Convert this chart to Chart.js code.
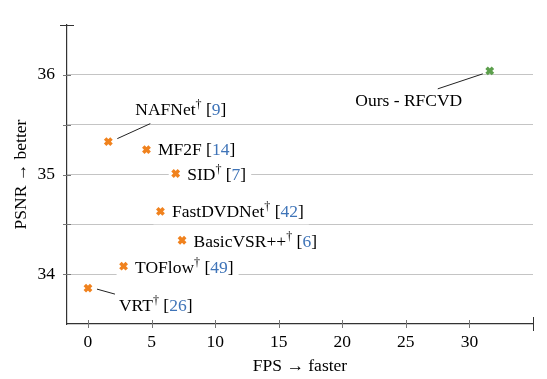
<!DOCTYPE html>
<html lang="en">
<head>
<meta charset="UTF-8">
<title>PSNR vs FPS</title>
<script src="https://cdn.jsdelivr.net/npm/chart.js"></script>
<style>
  html, body { margin: 0; padding: 0; background: #fff; }
</style>
</head>
<body>
<canvas id="chart" width="547" height="379"></canvas>
<script>
// data
const methods = ['NAFNet', 'MF2F', 'SID', 'FastDVDNet', 'BasicVSR++', 'TOFlow', 'VRT'];
const methodFps = [1.6, 4.6, 6.9, 5.7, 7.4, 2.8, 0.0];
const methodPsnr = [35.33, 35.25, 35.01, 34.63, 34.34, 34.08, 33.86];
const methodDagger = [true, false, true, true, true, true, true];
const methodRefs = ['9', '14', '7', '42', '6', '49', '26'];

const ours = ['Ours - RFCVD'];
const oursFps = [31.6];
const oursPsnr = [36.04];

const xTicks = [0, 5, 10, 15, 20, 25, 30, 35];
const xTickLabels = ['0', '5', '10', '15', '20', '25', '30', ''];
const yTicks = [33.5, 34, 34.5, 35, 35.5, 36, 36.5];
const yTickLabels = ['', '34', '', '35', '', '36', ''];

const ORANGE = '#f0821e';
const GREEN = '#5c9f4c';
const BLUE = '#3f74b8';
const FONT = '"Liberation Serif", "DejaVu Serif", serif';
const FS = 17.5;

// where each label sits relative to its marker
const labelPlace = {
  'NAFNet':       { dx: 27,  dy: -27, align: 'left', leader: [9, -3, 42, -18] },
  'MF2F':         { dx: 11.5, dy: 5,  align: 'left', boxFromPoint: true },
  'SID':          { dx: 11.5, dy: 6,  align: 'left', boxFromPoint: true },
  'FastDVDNet':   { dx: 11.5, dy: 6,  align: 'left', boxFromPoint: true },
  'BasicVSR++':   { dx: 11.5, dy: 6.5, align: 'left', boxFromPoint: true },
  'TOFlow':       { dx: 11.5, dy: 7,  align: 'left', boxFromPoint: true },
  'VRT':          { dx: 31,  dy: 23,  align: 'left', leader: [9, 1, 27, 6] },
  'Ours - RFCVD': { dx: -81, dy: 35,  align: 'center', leader: [-52, 18, -7, 3] }
};

const methodPoints = methods.map((m, i) => ({
  x: methodFps[i], y: methodPsnr[i], name: m, dagger: methodDagger[i], ref: methodRefs[i]
}));
const oursPoints = ours.map((m, i) => ({ x: oursFps[i], y: oursPsnr[i], name: m }));

function runsFor(p) {
  const runs = [{ t: p.name, c: '#000' }];
  if (p.dagger) runs.push({ t: '\u2020', c: '#000', sup: true });
  if (p.ref) {
    runs.push({ t: ' [', c: '#000' }, { t: p.ref, c: BLUE }, { t: ']', c: '#000' });
  }
  return runs;
}

const pointLabels = {
  id: 'pointLabels',
  beforeDatasetsDraw(chart) {
    const ctx = chart.ctx;
    ctx.save();
    chart.data.datasets.forEach((ds, di) => {
      const meta = chart.getDatasetMeta(di);
      meta.data.forEach((el, i) => {
        const p = ds.data[i];
        const place = labelPlace[p.name];
        if (!place) return;
        const runs = runsFor(p);
        let w = 0;
        runs.forEach(r => {
          ctx.font = (r.sup ? 12 : FS) + 'px ' + FONT;
          r.w = ctx.measureText(r.t).width;
          w += r.w;
        });
        let x0 = el.x + place.dx;
        if (place.align === 'center') x0 -= w / 2;
        const base = el.y + place.dy;
        // white box behind the text
        const bl = place.boxFromPoint ? el.x - 7 : x0 - 4;
        ctx.fillStyle = '#fff';
        ctx.fillRect(bl, base - 16, x0 + w + 5 - bl, 23);
        // leader line
        if (place.leader) {
          const l = place.leader;
          ctx.strokeStyle = '#222';
          ctx.lineWidth = 1;
          ctx.beginPath();
          ctx.moveTo(el.x + l[0], el.y + l[1]);
          ctx.lineTo(el.x + l[2], el.y + l[3]);
          ctx.stroke();
        }
        ctx.textBaseline = 'alphabetic';
        ctx.textAlign = 'left';
        let x = x0;
        runs.forEach(r => {
          ctx.font = (r.sup ? 12 : FS) + 'px ' + FONT;
          ctx.fillStyle = r.c;
          ctx.fillText(r.t, x, r.sup ? base - 7 : base);
          x += r.w;
        });
      });
    });
    ctx.restore();
  }
};

const axisTicks = {
  id: 'axisTicks',
  afterDraw(chart) {
    const { ctx, chartArea, scales } = chart;
    ctx.save();
    ctx.lineWidth = 1;
    scales.y.ticks.forEach(t => {
      if (t.value === scales.y.min) return;
      const py = Math.round(scales.y.getPixelForValue(t.value)) + 0.5;
      const cap = t.value === scales.y.max;
      const len = cap ? 7 : 4;
      ctx.strokeStyle = cap ? '#333' : '#777';
      ctx.beginPath();
      ctx.moveTo(chartArea.left - len, py);
      ctx.lineTo(chartArea.left + len, py);
      ctx.stroke();
    });
    scales.x.ticks.forEach(t => {
      const px = Math.round(scales.x.getPixelForValue(t.value)) + 0.5;
      const cap = t.value === scales.x.max;
      const len = cap ? 7 : 4;
      ctx.strokeStyle = cap ? '#333' : '#777';
      ctx.beginPath();
      ctx.moveTo(px, chartArea.bottom - len);
      ctx.lineTo(px, chartArea.bottom + len);
      ctx.stroke();
    });
    ctx.restore();
  }
};

new Chart(document.getElementById('chart'), {
  type: 'scatter',
  data: {
    datasets: [
      {
        label: 'Others',
        data: methodPoints,
        pointStyle: 'crossRot',
        pointRadius: 4.5,
        pointBorderWidth: 3.5,
        borderColor: ORANGE,
        backgroundColor: ORANGE
      },
      {
        label: 'Ours',
        data: oursPoints,
        pointStyle: 'crossRot',
        pointRadius: 4.5,
        pointBorderWidth: 3.5,
        borderColor: GREEN,
        backgroundColor: GREEN
      }
    ]
  },
  options: {
    responsive: false,
    animation: false,
    devicePixelRatio: 1,
    layout: { padding: { top: 25, right: 14, left: 0, bottom: 0 } },
    plugins: { legend: { display: false }, tooltip: { enabled: false } },
    scales: {
      x: {
        type: 'linear',
        min: -1.65,
        max: 35,
        afterBuildTicks: s => { s.ticks = xTicks.map(v => ({ value: v })); },
        afterFit: s => { s.height = 55; },
        grid: { drawOnChartArea: false, drawTicks: false },
        border: { color: '#333', width: 1.2 },
        ticks: {
          padding: 8, color: '#000', autoSkip: false, maxRotation: 0,
          font: { family: FONT, size: FS },
          callback: (v, i) => xTickLabels[i]
        },
        title: {
          display: true, text: 'FPS \u2192 faster', color: '#000',
          font: { family: FONT, size: FS }, padding: { top: 0, bottom: 2.5 }
        }
      },
      y: {
        min: 33.5,
        max: 36.5,
        afterBuildTicks: s => { s.ticks = yTicks.map(v => ({ value: v })); },
        afterFit: s => { s.width = 67; },
        grid: {
          drawTicks: false,
          color: c => (c.tick && (c.tick.value === 33.5 || c.tick.value === 36.5)) ? 'rgba(0,0,0,0)' : '#c4c4c4'
        },
        border: { color: '#333', width: 1.2 },
        ticks: {
          padding: 12, color: '#000', autoSkip: false,
          font: { family: FONT, size: FS },
          callback: (v, i) => yTickLabels[i]
        },
        title: {
          display: true, text: 'PSNR \u2192 better', color: '#000',
          font: { family: FONT, size: FS }, padding: { top: 10.5, bottom: 0 }
        }
      }
    }
  },
  plugins: [pointLabels, axisTicks]
});
</script>
</body>
</html>
